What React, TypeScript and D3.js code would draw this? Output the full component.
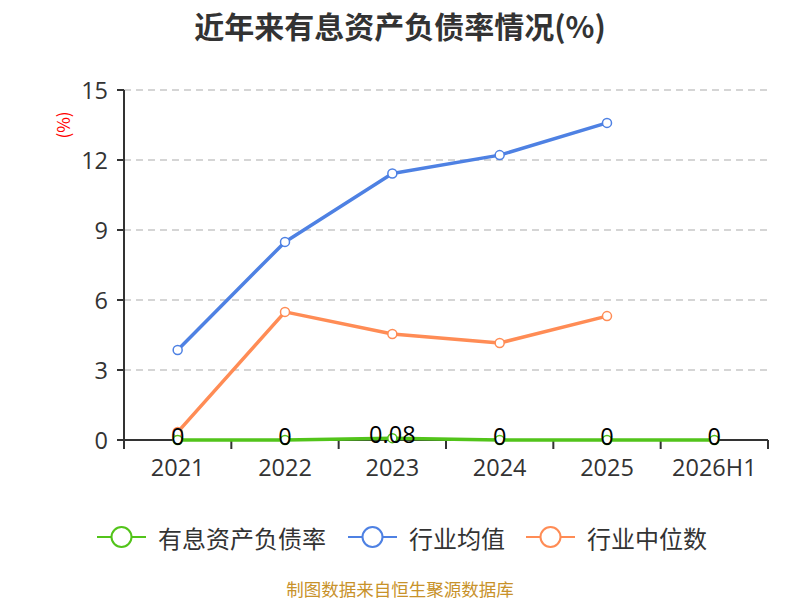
import * as d3 from "d3";

const categories = ["2021", "2022", "2023", "2024", "2025", "2026H1"];
const debtRatio = [0, 0, 0.08, 0, 0, 0];
const industryAvg = [3.86, 8.49, 11.42, 12.21, 13.59];
const industryMedian = [0.34, 5.49, 4.54, 4.16, 5.31];
const yTicks = [0, 3, 6, 9, 12, 15];

const seriesNames = ["有息资产负债率", "行业均值", "行业中位数"];
const seriesColors = ["#52c41a", "#4e81e3", "#ff8c55"];

const FONT = "'Noto Sans CJK SC', 'Noto Sans', sans-serif";
const NUM_FONT = "'Open Sans', 'Noto Sans', sans-serif";

const App = () => {
  const width = 800;
  const height = 600;
  const left = 124;
  const right = 768;
  const top = 90;
  const bottom = 440;

  const x = d3.scaleBand<string>().domain(categories).range([left, right]).padding(0);
  const y = d3.scaleLinear().domain([0, 15]).range([bottom, top]);
  const cx = (c: string) => (x(c) as number) + x.bandwidth() / 2;

  const line = d3
    .line<number>()
    .x((_, i) => cx(categories[i]))
    .y((d) => y(d));

  const allSeries = [debtRatio, industryAvg, industryMedian];
  const drawOrder = [1, 2, 0];

  // legend layout
  const legendX = [97, 348, 526];

  return (
    <svg
      width={width}
      height={height}
      style={{ position: "absolute", left: 0, top: 0, background: "#fff" }}
      fontFamily={FONT}
    >
      <text
        x={400}
        y={25}
        textAnchor="middle"
        dominantBaseline="central"
        fontSize={30}
        fontWeight="bold"
        fill="#333"
      >
        近年来有息资产负债率情况(%)
      </text>

      <text
        transform={`translate(62,125) rotate(-90)`}
        textAnchor="middle"
        dominantBaseline="central"
        fontSize={17}
        fill="#ff0000"
      >
        (%)
      </text>

      {/* grid and y ticks */}
      {yTicks.map((t) => (
        <g key={t}>
          {t !== 0 && (
            <line
              x1={left}
              x2={right}
              y1={y(t)}
              y2={y(t)}
              stroke="#c8c8c8"
              strokeWidth={1.5}
              strokeDasharray="7,5"
            />
          )}
          <line x1={left - 7} x2={left} y1={y(t)} y2={y(t)} stroke="#333" strokeWidth={2} />
          <text
            x={108}
            y={y(t)}
            textAnchor="end"
            dominantBaseline="central"
            fontFamily={NUM_FONT}
            fontSize={23.5}
            fill="#333"
          >
            {t}
          </text>
        </g>
      ))}

      {/* axes */}
      <line x1={left} x2={left} y1={top} y2={bottom} stroke="#333" strokeWidth={2} />
      <line x1={left} x2={right} y1={bottom} y2={bottom} stroke="#333" strokeWidth={2} />
      {categories.map((c) => (
        <line
          key={"t" + c}
          x1={x(c) as number}
          x2={x(c) as number}
          y1={bottom}
          y2={bottom + 9}
          stroke="#333"
          strokeWidth={2}
        />
      ))}
      <line x1={right} x2={right} y1={bottom} y2={bottom + 9} stroke="#333" strokeWidth={2} />
      {categories.map((c) => (
        <text
          key={"l" + c}
          x={cx(c)}
          y={467}
          textAnchor="middle"
          dominantBaseline="central"
          fontFamily={NUM_FONT}
          fontSize={23.5}
          fill="#333"
        >
          {c}
        </text>
      ))}

      {/* series */}
      {drawOrder.map((si) => {
        const data = allSeries[si];
        return (
          <g key={"s" + si}>
            <path
              d={line(data) as string}
              fill="none"
              stroke={seriesColors[si]}
              strokeWidth={3.5}
              strokeLinejoin="round"
            />
            {data.map((v, i) => (
              <circle
                key={i}
                cx={cx(categories[i])}
                cy={y(v)}
                r={4.5}
                fill="#fff"
                stroke={seriesColors[si]}
                strokeWidth={1.5}
              />
            ))}
          </g>
        );
      })}

      {/* data labels */}
      {debtRatio.map((v, i) => (
        <text
          key={"d" + i}
          x={cx(categories[i])}
          y={y(v) - 4}
          textAnchor="middle"
          dominantBaseline="central"
          fontFamily={NUM_FONT}
          fontSize={23.5}
          fill="#000"
        >
          {v}
        </text>
      ))}

      {/* legend */}
      {seriesNames.map((name, i) => (
        <g key={"lg" + i} transform={`translate(${legendX[i]},537)`}>
          <line x1={0} x2={49} y1={0} y2={0} stroke={seriesColors[i]} strokeWidth={2} />
          <circle cx={24.5} cy={0} r={10} fill="#fff" stroke={seriesColors[i]} strokeWidth={2} />
          <text x={61} y={0} dominantBaseline="central" fontSize={24} fill="#333">
            {name}
          </text>
        </g>
      ))}

      <text
        x={400}
        y={588}
        textAnchor="middle"
        dominantBaseline="central"
        fontSize={17.5}
        fill="#c8922a"
      >
        制图数据来自恒生聚源数据库
      </text>
    </svg>
  );
};

export default App;
